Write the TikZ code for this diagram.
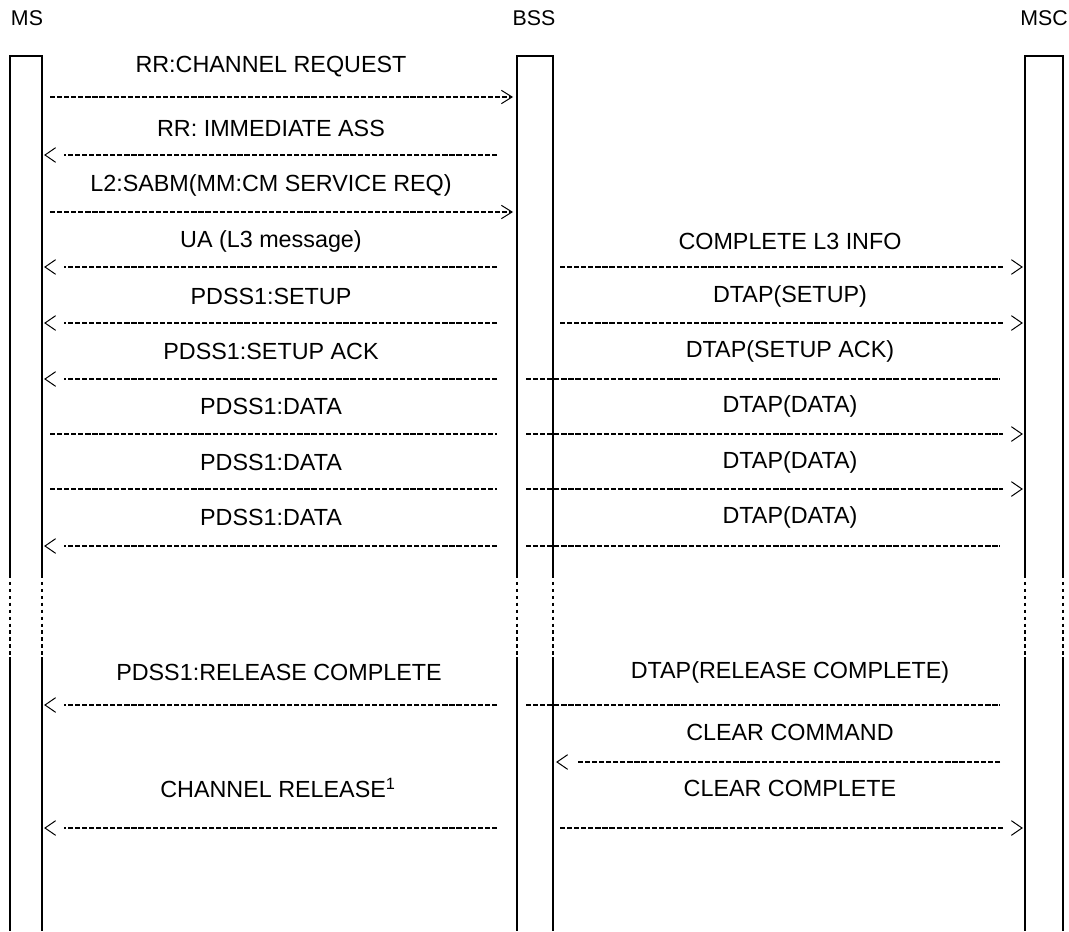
\documentclass[tikz,border=0pt]{standalone}
\usepackage{fontspec}
\setmainfont{Liberation Sans}
\usetikzlibrary{arrows.meta,decorations.markings}

\tikzset{
  headtext/.style={inner sep=0.75pt, font=\fontsize{16}{19}\selectfont},
  msgtext/.style={inner sep=0.75pt, font=\fontsize{17.5}{21}\selectfont},
  msgline/.style={line width=1pt, dash pattern=on 3.9pt off 1.4pt},
  tipgap/.style={shorten >=14.5pt, postaction={decorate},
    decoration={markings, mark=at position 1 with {\draw [solid, shorten >=0pt, line width=0.75pt] (-8pt,5.5pt) -- (0pt,0pt) -- (-8pt,-5.5pt) ;}}},
  tipnogap/.style={-{Straight Barb[length=8pt,width=10pt,line width=0.75pt]}},
  lifeline/.style={line width=1.5pt},
  lifegap/.style={line width=1.5pt, dash pattern=on 2.6pt off 2.6pt}
}

\begin{document}
\begin{tikzpicture}[x=0.75pt,y=0.75pt,yscale=-1,xscale=1]
\useasboundingbox (0,0) rectangle (1069,931);

% Text Node
\node [headtext] (ms) at (27,18) {MS};
\node [headtext] (bss) at (534,18) {BSS};
\node [headtext] (msc) at (1044,18) {MSC};

%Shape: MS lifeline
\draw [lifeline] (10,575) -- (10,56) -- (42,56) -- (42,575) ;
\draw [lifegap] (10,575) -- (10,657) ;
\draw [lifegap] (42,575) -- (42,657) ;
\draw [lifeline] (10,657) -- (10,931) ;
\draw [lifeline] (42,657) -- (42,931) ;
%Shape: BSS lifeline
\draw [lifeline] (517,575) -- (517,56) -- (553,56) -- (553,575) ;
\draw [lifegap] (517,575) -- (517,657) ;
\draw [lifegap] (553,575) -- (553,657) ;
\draw [lifeline] (517,657) -- (517,931) ;
\draw [lifeline] (553,657) -- (553,931) ;
%Shape: MSC lifeline
\draw [lifeline] (1025,575) -- (1025,56) -- (1063,56) -- (1063,575) ;
\draw [lifegap] (1025,575) -- (1025,657) ;
\draw [lifegap] (1063,575) -- (1063,657) ;
\draw [lifeline] (1025,657) -- (1025,931) ;
\draw [lifeline] (1063,657) -- (1063,931) ;

% MS <-> BSS messages
\node [msgtext] (chreq) at (271,67) {RR:CHANNEL REQUEST};
\coordinate (chreqA) at (50,97) ;
\coordinate (chreqB) at (513,97) ;
\draw [msgline, tipnogap] (chreqA) -- (chreqB) ;

\node [msgtext] (immass) at (271,128) {RR: IMMEDIATE ASS};
\coordinate (immassA) at (497,155) ;
\coordinate (immassB) at (45,155) ;
\draw [msgline, tipgap] (immassA) -- (immassB) ;

\node [msgtext] (sabm) at (271,185) {L2:SABM(MM:CM SERVICE REQ)};
\coordinate (sabmA) at (50,212) ;
\coordinate (sabmB) at (513,212) ;
\draw [msgline, tipnogap] (sabmA) -- (sabmB) ;

\node [msgtext] (ua) at (271,241) {UA (L3 message)};
\coordinate (uaA) at (497,267) ;
\coordinate (uaB) at (45,267) ;
\draw [msgline, tipgap] (uaA) -- (uaB) ;

\node [msgtext] (setup) at (271,296) {PDSS1:SETUP};
\coordinate (setupA) at (497,323) ;
\coordinate (setupB) at (45,323) ;
\draw [msgline, tipgap] (setupA) -- (setupB) ;

\node [msgtext] (setack) at (271,351) {PDSS1:SETUP ACK};
\coordinate (setackA) at (497,379) ;
\coordinate (setackB) at (45,379) ;
\draw [msgline, tipgap] (setackA) -- (setackB) ;

\node [msgtext] (dataA) at (271,406) {PDSS1:DATA};
\coordinate (dataAA) at (50,434) ;
\coordinate (dataAB) at (497,434) ;
\draw [msgline] (dataAA) -- (dataAB) ;

\node [msgtext] (dataB) at (271,462) {PDSS1:DATA};
\coordinate (dataBA) at (50,489) ;
\coordinate (dataBB) at (497,489) ;
\draw [msgline] (dataBA) -- (dataBB) ;

\node [msgtext] (dataC) at (271,517) {PDSS1:DATA};
\coordinate (dataCA) at (497,546) ;
\coordinate (dataCB) at (45,546) ;
\draw [msgline, tipgap] (dataCA) -- (dataCB) ;

\node [msgtext] (relcmp) at (279,672) {PDSS1:RELEASE COMPLETE};
\coordinate (relcmpA) at (497,705) ;
\coordinate (relcmpB) at (45,705) ;
\draw [msgline, tipgap] (relcmpA) -- (relcmpB) ;

\node [msgtext] (chrel) at (278,788) {CHANNEL RELEASE\textsuperscript{1}};
\coordinate (chrelA) at (497,828) ;
\coordinate (chrelB) at (45,828) ;
\draw [msgline, tipgap] (chrelA) -- (chrelB) ;

% BSS <-> MSC messages
\node [msgtext] (l3info) at (790,241) {COMPLETE L3 INFO};
\coordinate (l3infoA) at (560,267) ;
\coordinate (l3infoB) at (1022,267) ;
\draw [msgline, tipgap] (l3infoA) -- (l3infoB) ;

\node [msgtext] (dsetup) at (790,296) {DTAP(SETUP)};
\coordinate (dsetupA) at (560,323) ;
\coordinate (dsetupB) at (1022,323) ;
\draw [msgline, tipgap] (dsetupA) -- (dsetupB) ;

\node [msgtext] (dsetack) at (790,351) {DTAP(SETUP ACK)};
\coordinate (dsetackA) at (526,379) ;
\coordinate (dsetackB) at (1000,379) ;
\draw [msgline] (dsetackA) -- (dsetackB) ;

\node [msgtext] (ddataA) at (790,406) {DTAP(DATA)};
\coordinate (ddataAA) at (526,434) ;
\coordinate (ddataAB) at (1022,434) ;
\draw [msgline, tipgap] (ddataAA) -- (ddataAB) ;

\node [msgtext] (ddataB) at (790,462) {DTAP(DATA)};
\coordinate (ddataBA) at (526,489) ;
\coordinate (ddataBB) at (1022,489) ;
\draw [msgline, tipgap] (ddataBA) -- (ddataBB) ;

\node [msgtext] (ddataC) at (790,517) {DTAP(DATA)};
\coordinate (ddataCA) at (526,546) ;
\coordinate (ddataCB) at (1000,546) ;
\draw [msgline] (ddataCA) -- (ddataCB) ;

\node [msgtext] (drelcmp) at (790,672) {DTAP(RELEASE COMPLETE)};
\coordinate (drelcmpA) at (526,705) ;
\coordinate (drelcmpB) at (1000,705) ;
\draw [msgline] (drelcmpA) -- (drelcmpB) ;

\node [msgtext] (clrcmd) at (790,732) {CLEAR COMMAND};
\coordinate (clrcmdA) at (1000,762) ;
\coordinate (clrcmdB) at (557,762) ;
\draw [msgline, tipgap] (clrcmdA) -- (clrcmdB) ;

\node [msgtext] (clrcmp) at (790,788) {CLEAR COMPLETE};
\coordinate (clrcmpA) at (560,828) ;
\coordinate (clrcmpB) at (1022,828) ;
\draw [msgline, tipgap] (clrcmpA) -- (clrcmpB) ;

\end{tikzpicture}
\end{document}
